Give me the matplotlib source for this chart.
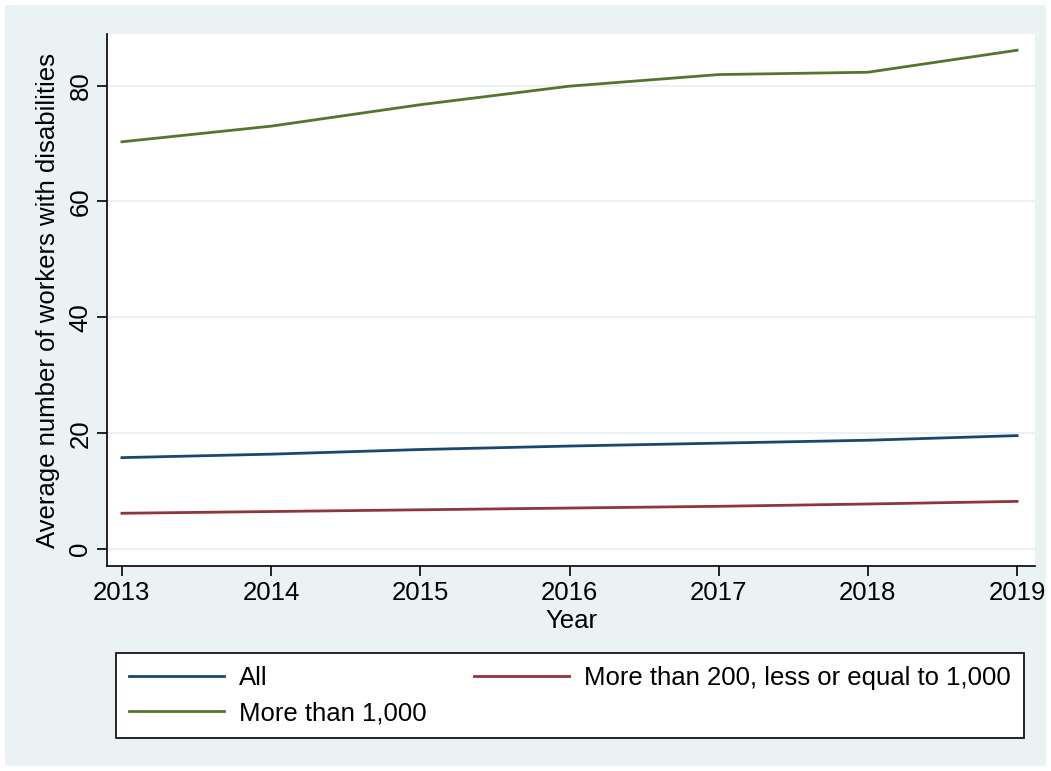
import matplotlib.pyplot as plt
from matplotlib.patches import Rectangle

plt.rcParams['font.family'] = ['Liberation Sans', 'DejaVu Sans']

years = [2013, 2014, 2015, 2016, 2017, 2018, 2019]
all_firms = [15.8, 16.4, 17.2, 17.8, 18.3, 18.8, 19.6]
mid_firms = [6.2, 6.5, 6.8, 7.1, 7.4, 7.8, 8.25]
big_firms = [70.3, 73.0, 76.7, 79.9, 81.9, 82.3, 86.1]

bg = '#EAF2F3'
fs = 18.5

fig = plt.figure(figsize=(10.51, 7.71), dpi=100)
fig.patch.set_facecolor('white')
fig.patches.append(Rectangle((5 / 1051, 5 / 771), 1041 / 1051, 761 / 771,
                             transform=fig.transFigure, facecolor=bg,
                             edgecolor='none', zorder=-10))

ax = fig.add_axes([107 / 1051, 1 - 566 / 771, 928 / 1051, 532 / 771])
ax.set_facecolor('white')

ax.plot(years, all_firms, color='#1A476F', lw=2, label='All')
ax.plot(years, mid_firms, color='#90353B', lw=2,
        label='More than 200, less or equal to 1,000')
ax.plot(years, big_firms, color='#55752F', lw=2, label='More than 1,000')

ax.set_xlim(2012.9, 2019.12)
ax.set_ylim(-2.9, 88.9)
ax.set_xticks(years)
ax.set_yticks([0, 20, 40, 60, 80])
ax.grid(axis='y', color=bg, lw=1.5)
ax.set_axisbelow(True)

for s in ['top', 'right']:
    ax.spines[s].set_visible(False)
for s in ['left', 'bottom']:
    ax.spines[s].set_linewidth(1.2)

ax.tick_params(axis='both', labelsize=fs, length=7, width=1.2, direction='out')
plt.setp(ax.get_yticklabels(), rotation=90, va='center')

ax.set_xlabel('Year', fontsize=fs, labelpad=3)
ax.set_ylabel('Average number of workers with disabilities', fontsize=fs, labelpad=6)

handles, labels = ax.get_legend_handles_labels()
order = [0, 2, 1]
leg = fig.legend([handles[i] for i in order], [labels[i] for i in order],
                 ncol=2, loc='center',
                 bbox_to_anchor=(116 / 1051, 1 - 739 / 771, 908 / 1051, 87 / 771),
                 mode='expand', fontsize=fs, frameon=True, fancybox=False,
                 edgecolor='black', facecolor='white', framealpha=1,
                 handlelength=3.7, handletextpad=0.6, borderaxespad=0,
                 borderpad=0.5, labelspacing=0.45, columnspacing=2)
leg.get_frame().set_linewidth(1.2)

fig.savefig('out.png', dpi=100, facecolor=fig.get_facecolor())
